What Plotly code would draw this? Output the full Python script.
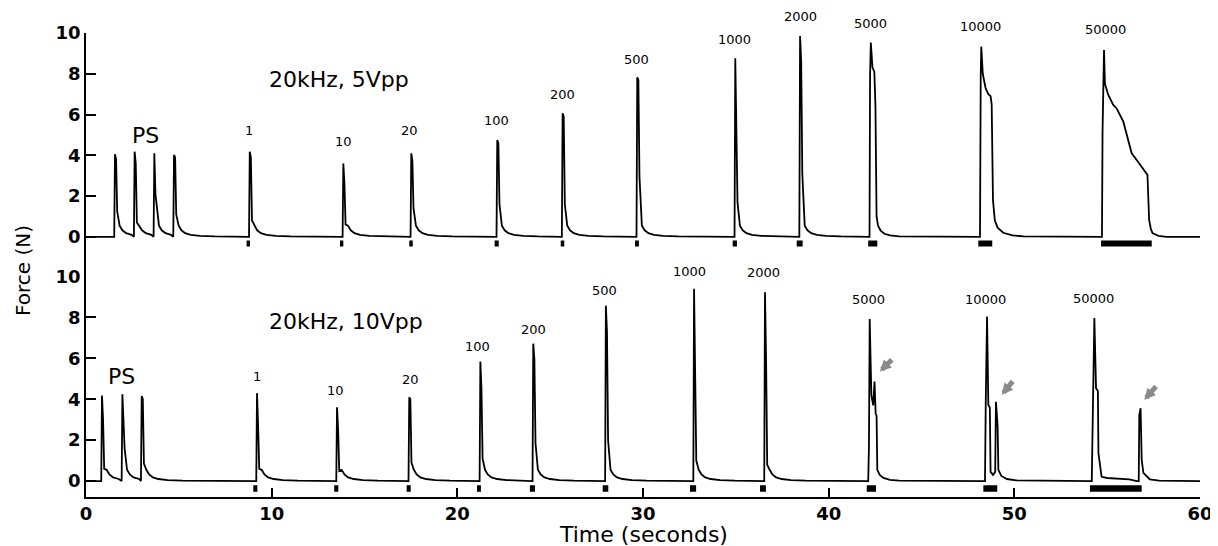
import plotly.graph_objects as go
from plotly.subplots import make_subplots

# ---------------- data ----------------
# Top panel: 20kHz, 5Vpp  -- short contractions (onset time, peak, fast-drop level, shoulder)
top_onset = [1.56, 2.62, 3.68, 4.74, 8.82, 13.86, 17.52, 22.15, 25.67, 29.69, 34.97, 38.46]
top_peak = [4.05, 4.18, 4.10, 4.02, 4.18, 3.60, 4.10, 4.75, 6.06, 7.83, 8.76, 9.85]
top_mid = [3.80, 3.60, 2.10, 3.90, 3.90, 2.60, 3.70, 4.60, 5.90, 7.70, 6.00, 8.60]
top_shoulder = [1.25, 0.70, 1.50, 1.10, 0.80, 0.60, 1.40, 1.60, 1.60, 2.95, 1.70, 3.10]
# long contractions, traced point by point
top_5000_t = [42.20, 42.23, 42.27, 42.36, 42.46, 42.52, 42.58, 42.66, 42.80, 43.00, 43.30, 43.80]
top_5000_f = [0.00, 7.90, 9.53, 8.30, 8.10, 6.40, 1.00, 0.55, 0.30, 0.15, 0.07, 0.02]
top_10000_t = [48.15, 48.19, 48.22, 48.30, 48.45, 48.60, 48.72, 48.78, 48.85, 48.95, 49.10, 49.40, 49.90, 50.50]
top_10000_f = [0.00, 7.90, 9.33, 8.00, 7.30, 7.00, 6.90, 6.50, 1.80, 0.80, 0.45, 0.20, 0.07, 0.02]
top_50000_t = [54.72, 54.75, 54.83, 54.88, 55.06, 55.33, 55.51, 55.87, 56.05, 56.32, 56.59, 56.86, 57.17,
               57.26, 57.35, 57.44, 57.76, 58.20]
top_50000_f = [0.00, 5.10, 9.17, 7.50, 6.96, 6.47, 6.30, 5.65, 5.00, 4.10, 3.77, 3.45, 3.04,
               0.83, 0.40, 0.18, 0.05, 0.00]

# Bottom panel: 20kHz, 10Vpp
bot_onset = [0.86, 1.96, 3.00, 9.21, 13.52, 17.41, 21.24, 24.09, 28.00, 32.75, 36.57]
bot_peak = [4.18, 4.24, 4.16, 4.30, 3.61, 4.10, 5.85, 6.72, 8.58, 9.40, 9.23]
bot_mid = [3.00, 3.05, 4.00, 2.70, 2.50, 4.00, 4.50, 5.95, 7.30, 3.80, 5.90]
bot_shoulder = [0.60, 1.60, 0.85, 0.60, 0.50, 0.90, 1.10, 1.85, 2.00, 1.00, 0.80]
bot_5000_t = [42.13, 42.17, 42.21, 42.30, 42.40, 42.47, 42.53, 42.58, 42.62, 42.75, 42.95, 43.30, 43.80]
bot_5000_f = [0.00, 1.70, 7.92, 4.20, 3.70, 4.87, 3.30, 3.20, 0.55, 0.30, 0.15, 0.06, 0.02]
bot_10000_t = [48.42, 48.46, 48.53, 48.60, 48.68, 48.72, 48.85, 48.97, 49.01, 49.10, 49.14, 49.30, 49.60, 50.10]
bot_10000_f = [0.00, 3.80, 8.05, 3.72, 3.60, 0.45, 0.30, 0.45, 3.88, 2.70, 0.55, 0.25, 0.10, 0.03]
bot_50000_t = [54.17, 54.20, 54.31, 54.40, 54.50, 54.53, 54.70, 55.00, 55.50, 56.20, 56.60, 56.70,
               56.73, 56.80, 56.86, 56.95, 57.30, 57.80]
bot_50000_f = [0.00, 1.70, 7.97, 4.54, 4.40, 1.36, 0.21, 0.15, 0.12, 0.08, 0.00, 0.00,
               3.23, 3.56, 1.03, 0.40, 0.08, 0.02]

# relaxation tail after a short contraction (seconds after onset, force)
tail_dt = [0.25, 0.40, 0.60, 0.90, 1.40, 2.20]
tail_f = [0.55, 0.32, 0.18, 0.10, 0.05, 0.02]

# stimulation bars (start, end) in seconds
top_stim_start = [8.65, 13.68, 17.41, 22.01, 25.57, 29.57, 34.83, 38.28, 42.13, 48.06, 54.67]
top_stim_end = [8.83, 13.86, 17.60, 22.23, 25.76, 29.78, 35.06, 38.60, 42.62, 48.81, 57.40]
bot_stim_start = [9.01, 13.37, 17.27, 21.06, 23.91, 27.83, 32.53, 36.30, 42.05, 48.33, 54.07]
bot_stim_end = [9.23, 13.59, 17.49, 21.27, 24.18, 28.13, 32.86, 36.62, 42.55, 49.08, 56.86]

# pulse-count labels
top_labels = ["1", "10", "20", "100", "200", "500", "1000", "2000", "5000", "10000", "50000"]
top_label_t = [8.80, 13.86, 17.45, 22.12, 25.67, 29.66, 34.92, 38.46, 42.26, 48.20, 54.92]
top_label_f = [5.20, 4.67, 5.20, 5.70, 7.00, 8.71, 9.66, 10.83, 10.47, 10.34, 10.18]
bot_labels = ["1", "10", "20", "100", "200", "500", "1000", "2000", "5000", "10000", "50000"]
bot_label_t = [9.21, 13.45, 17.49, 21.08, 24.09, 27.92, 32.53, 36.48, 42.17, 48.46, 54.29]
bot_label_f = [5.11, 4.43, 4.95, 6.58, 7.40, 9.33, 10.26, 10.18, 8.87, 8.90, 8.95]

# gray arrows in bottom panel (tail -> head)
arrow_tail_t = [43.48, 49.98, 57.70]
arrow_tail_f = [6.01, 4.95, 4.71]
arrow_head_t = [42.76, 49.32, 57.00]
arrow_head_f = [5.36, 4.22, 3.97]

TOP_RANGE = [-1.95, 10]
BOT_RANGE = [-0.78, 10]


def build_trace(onset, peak, mid, shoulder, specials):
    events = []
    for t0, p, m, s in zip(onset, peak, mid, shoulder):
        events.append((t0, "short", (t0, p, m, s)))
    for ts, fs in specials:
        events.append((ts[0], "long", (ts, fs)))
    events.sort(key=lambda e: e[0])
    xs, ys = [0.0], [0.0]
    for i, (start, kind, d) in enumerate(events):
        nxt = events[i + 1][0] if i + 1 < len(events) else 60.0
        if kind == "short":
            t0, p, m, s = d
            xs += [t0 - 0.04, t0, t0 + 0.06, t0 + 0.12]
            ys += [0.0, p, m, s]
            for dt, f in zip(tail_dt, tail_f):
                if t0 + dt < nxt - 0.05:
                    xs.append(t0 + dt)
                    ys.append(f)
        else:
            ts, fs = d
            xs += list(ts)
            ys += list(fs)
    xs.append(60.0)
    ys.append(0.0)
    return xs, ys


top_x, top_y = build_trace(top_onset, top_peak, top_mid, top_shoulder,
                           [(top_5000_t, top_5000_f), (top_10000_t, top_10000_f), (top_50000_t, top_50000_f)])
bot_x, bot_y = build_trace(bot_onset, bot_peak, bot_mid, bot_shoulder,
                           [(bot_5000_t, bot_5000_f), (bot_10000_t, bot_10000_f), (bot_50000_t, bot_50000_f)])

FONT = "DejaVu Sans"

fig = make_subplots(rows=2, cols=1, shared_xaxes=True, vertical_spacing=0,
                    row_heights=[0.525, 0.475])
fig.add_trace(go.Scatter(x=top_x, y=top_y, mode="lines", line=dict(color="black", width=1.8),
                         showlegend=False, hoverinfo="skip"), row=1, col=1)
fig.add_trace(go.Scatter(x=bot_x, y=bot_y, mode="lines", line=dict(color="black", width=1.8),
                         showlegend=False, hoverinfo="skip"), row=2, col=1)

shapes = []
for a, b in zip(top_stim_start, top_stim_end):
    shapes.append(dict(type="rect", xref="x", yref="y", x0=a, x1=b, y0=-0.47, y1=-0.18,
                       fillcolor="black", line=dict(width=0)))
for a, b in zip(bot_stim_start, bot_stim_end):
    shapes.append(dict(type="rect", xref="x2", yref="y2", x0=a, x1=b, y0=-0.52, y1=-0.20,
                       fillcolor="black", line=dict(width=0)))

ann = []
# pulse-count labels: y given in the axis' domain fraction so that labels above 10 N remain visible
for s, t, f in zip(top_labels, top_label_t, top_label_f):
    ann.append(dict(x=t, y=(f - TOP_RANGE[0]) / (TOP_RANGE[1] - TOP_RANGE[0]), xref="x", yref="y domain",
                    text=s, showarrow=False, xanchor="center", yanchor="middle",
                    font=dict(family=FONT, size=13, color="black")))
for s, t, f in zip(bot_labels, bot_label_t, bot_label_f):
    ann.append(dict(x=t, y=(f - BOT_RANGE[0]) / (BOT_RANGE[1] - BOT_RANGE[0]), xref="x2", yref="y2 domain",
                    text=s, showarrow=False, xanchor="center", yanchor="middle",
                    font=dict(family=FONT, size=13, color="black")))
ann.append(dict(x=13.6, y=7.7, xref="x", yref="y", text="20kHz, 5Vpp", showarrow=False,
                font=dict(family=FONT, size=22, color="black")))
ann.append(dict(x=3.2, y=4.95, xref="x", yref="y", text="PS", showarrow=False,
                font=dict(family=FONT, size=22, color="black")))
ann.append(dict(x=14.0, y=7.8, xref="x2", yref="y2", text="20kHz, 10Vpp", showarrow=False,
                font=dict(family=FONT, size=22, color="black")))
ann.append(dict(x=1.9, y=5.1, xref="x2", yref="y2", text="PS", showarrow=False,
                font=dict(family=FONT, size=22, color="black")))
for tx, ty, hx, hy in zip(arrow_tail_t, arrow_tail_f, arrow_head_t, arrow_head_f):
    ann.append(dict(x=hx, y=hy, xref="x2", yref="y2", ax=tx, ay=ty, axref="x2", ayref="y2",
                    text="", showarrow=True, arrowhead=2, arrowsize=0.45, arrowwidth=5,
                    arrowcolor="#8a8a8a", standoff=0))
ann.append(dict(x=-0.0566, y=0.489, xref="paper", yref="paper", text="Force (N)", textangle=-90,
                xanchor="center", yanchor="middle",
                showarrow=False, font=dict(family=FONT, size=20, color="black")))
ann.append(dict(x=0.5, y=-0.08, xref="paper", yref="paper", text="Time (seconds)",
                showarrow=False, yanchor="middle", font=dict(family=FONT, size=22, color="black")))

yaxis_common = dict(showline=True, linecolor="black", linewidth=1.5, ticks="inside", ticklen=10,
                    tickwidth=1.5, tickcolor="black", tickvals=[0, 2, 4, 6, 8, 10],
                    showgrid=False, zeroline=False, automargin=False,
                    tickfont=dict(family=FONT, size=18, color="black", weight="bold"))
fig.update_yaxes(range=TOP_RANGE, row=1, col=1, **yaxis_common)
fig.update_yaxes(range=BOT_RANGE, row=2, col=1, **yaxis_common)
fig.update_xaxes(range=[0, 60], row=1, col=1, showline=False, showticklabels=False, ticks="",
                 showgrid=False, zeroline=False, automargin=False)
fig.update_xaxes(range=[0, 60], row=2, col=1, showline=True, linecolor="black", linewidth=1.5,
                 ticks="inside", ticklen=9, tickwidth=1.5, tickcolor="black", automargin=False,
                 tickvals=[0, 10, 20, 30, 40, 50, 60], showgrid=False, zeroline=False,
                 tickfont=dict(family=FONT, size=18, color="black", weight="bold"))

# page body adds an 8px offset, so the figure is 8px smaller than the window
fig.update_layout(width=1210, height=538, margin=dict(l=78, r=18, t=25, b=49, autoexpand=False),
                  paper_bgcolor="white", plot_bgcolor="white",
                  shapes=shapes, annotations=ann, showlegend=False)

fig.write_html("out.html")
